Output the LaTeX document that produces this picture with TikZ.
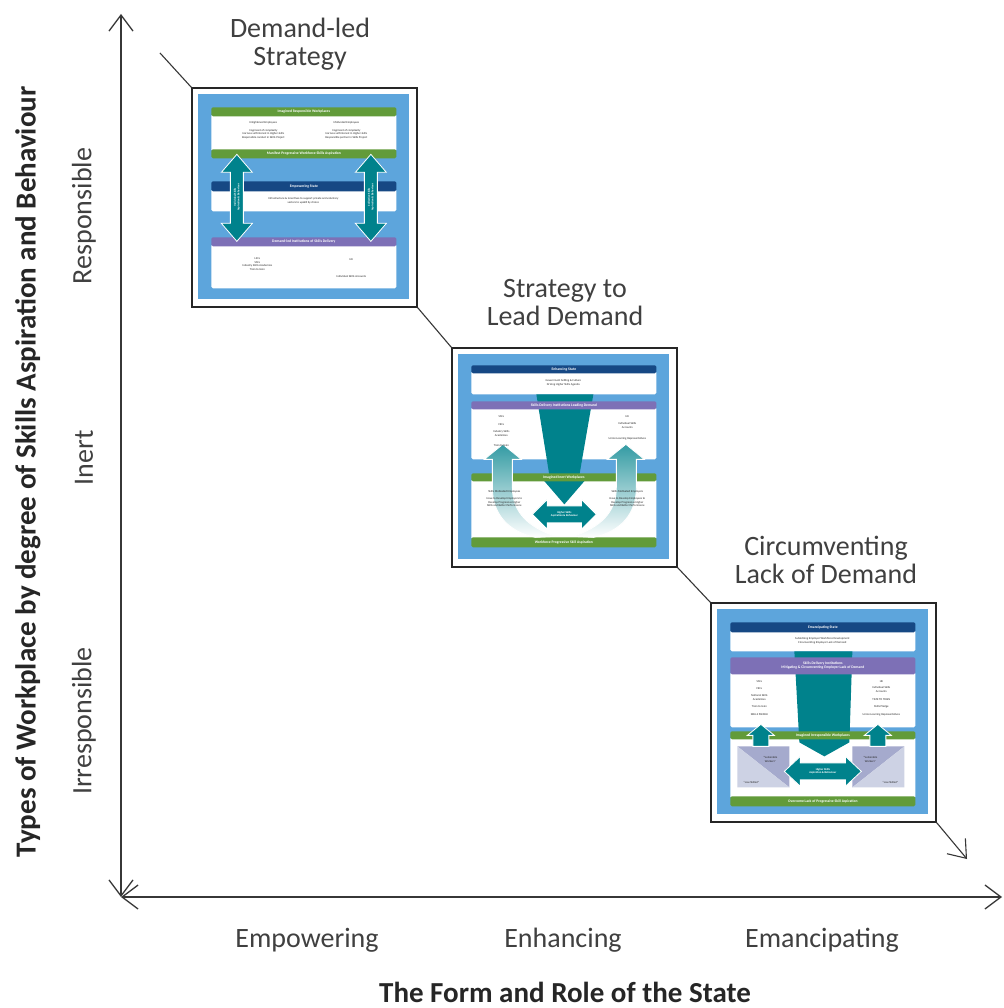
\documentclass[tikz,border=0pt]{standalone}
\usepackage{fontspec}
\setmainfont{Carlito}
\usetikzlibrary{arrows.meta}

\definecolor{panelblue}{RGB}{93,165,220}
\definecolor{barGreen}{RGB}{98,155,58}
\definecolor{barNavy}{RGB}{22,72,132}
\definecolor{barPurple}{RGB}{125,112,182}
\definecolor{tealA}{RGB}{0,130,140}
\definecolor{lavDark}{RGB}{165,170,205}
\definecolor{lavLight}{RGB}{205,210,228}
\definecolor{ink}{RGB}{64,64,64}
\definecolor{inkdark}{RGB}{38,38,38}
\definecolor{axisline}{RGB}{55,55,55}

\tikzset{
  barb/.tip={Straight Barb[length=16pt,width=24pt]},
  axisarrow/.style={draw=axisline, line width=1.3pt, barb-barb},
  diagline/.style={draw=axisline, line width=1.1pt},
  thumbframe/.style={draw=black!85, line width=1.3pt, fill=white,
    minimum width=225pt, minimum height=219pt, inner sep=0pt},
  stagetitle/.style={align=center, text=ink, font=\fontsize{28}{28}\selectfont, inner sep=0pt},
  ticklabel/.style={text=ink, font=\fontsize{28}{31}\selectfont, inner sep=0pt},
  axistitle/.style={text=inkdark, font=\bfseries\fontsize{29}{31}\selectfont, inner sep=0pt},
  bartext/.style={text=white, font=\bfseries\fontsize{3.7}{4.3}\selectfont, inner sep=0pt, align=center},
  tinytext/.style={text=black!85, font=\fontsize{2.9}{3.7}\selectfont, inner sep=0pt, align=center},
  arrowtext/.style={text=white, font=\bfseries\fontsize{2.8}{3.3}\selectfont, inner sep=0pt, align=center},
  tealshape/.style={fill=tealA, draw=white, line width=0.8pt, line join=miter},
}

% coloured heading bar across a thumbnail, with its caption
\newcommand\colbar[5]{%
  \fill[#2, rounded corners=1.5pt] (20,#3) rectangle (205,#4);
  \node[bartext] (#1) at (112.5,{(#3+#4)/2}) {#5};}
% vertical double arrow: cx, ytop, ybottom, head half width, shaft half width, head length
\newcommand\vdarrow[6]{%
  \path[tealshape] (#1,#2) -- ({#1+#4},{#2+#6}) -- ({#1+#5},{#2+#6}) -- ({#1+#5},{#3-#6})
    -- ({#1+#4},{#3-#6}) -- (#1,#3) -- ({#1-#4},{#3-#6}) -- ({#1-#5},{#3-#6})
    -- ({#1-#5},{#2+#6}) -- ({#1-#4},{#2+#6}) -- cycle;}
% horizontal double arrow: cy, xleft, xright, head half height, shaft half height, head length
\newcommand\hdarrow[6]{%
  \path[tealshape] (#2,#1) -- ({#2+#6},{#1-#4}) -- ({#2+#6},{#1-#5}) -- ({#3-#6},{#1-#5})
    -- ({#3-#6},{#1-#4}) -- (#3,#1) -- ({#3-#6},{#1+#4}) -- ({#3-#6},{#1+#5})
    -- ({#2+#6},{#1+#5}) -- ({#2+#6},{#1+#4}) -- cycle;}
% single upward arrow: cx, ytop, ybottom, head half width, shaft half width, head length
\newcommand\uparr[6]{%
  \path[tealshape] (#1,#2) -- ({#1+#4},{#2+#6}) -- ({#1+#5},{#2+#6}) -- ({#1+#5},#3)
    -- ({#1-#5},#3) -- ({#1-#5},{#2+#6}) -- ({#1-#4},{#2+#6}) -- cycle;}

\begin{document}
\begin{tikzpicture}[x=1pt, y=-1pt]
\useasboundingbox (0,0) rectangle (1003,1008);
\fill[white] (0,0) rectangle (1003,1008);

% ---------------- axes ----------------
\coordinate (O) at (121,897);
\coordinate (ytop) at (121,14);
\coordinate (xend) at (1002,897);
\draw[axisarrow] (O) -- (ytop);
\draw[axisarrow] (O) -- (xend);

\node[ticklabel] (xa) at (307,940) {Empowering};
\node[ticklabel] (xb) at (563,940) {Enhancing};
\node[ticklabel] (xc) at (822,940) {Emancipating};
\node[axistitle] (xt) at (565,992) {The Form and Role of the State};

\node[ticklabel, rotate=90] (ya) at (84,216) {Responsible};
\node[ticklabel, rotate=90] (yb) at (84,458) {Inert};
\node[ticklabel, rotate=90] (yc) at (84,721) {Irresponsible};
\node[axistitle, rotate=90] (yt) at (28,472) {Types of Workplace by degree of Skills Aspiration and Behaviour};

% ---------------- stage titles ----------------
\node[stagetitle] (t1) at (300,44) {Demand-led\\Strategy};
\node[stagetitle] (t2) at (565,303) {Strategy to\\Lead Demand};
\node[stagetitle] (t3) at (826,560) {Circumventing\\Lack of Demand};

% ---------------- thumbnail frames ----------------
\node[thumbframe] (s1) at (304.5,197.5) {};
\node[thumbframe] (s2) at (564.5,457.5) {};
\node[thumbframe] (s3) at (823.5,712.5) {};

% diagonal path through the three stages
\coordinate (d0) at (160,53);
\coordinate (d4) at (967,859);
\draw[diagline] (d0) -- (s1.north west);
\draw[diagline] (s1.south east) -- (s2.north west);
\draw[diagline] (s2.south east) -- (s3.north west);
\draw[diagline, -barb] (s3.south east) -- (d4);

% ---------------- stage 1: empowering state ----------------
\begin{scope}[shift={(s1.north west)}]
  \fill[panelblue] (7,7) rectangle (218,212);
  \fill[white, rounded corners=1.5pt] (20,27) rectangle (205,64);
  \fill[white, rounded corners=1.5pt] (20,102) rectangle (205,124);
  \fill[white, rounded corners=1.5pt] (20,157) rectangle (205,201);
  \colbar{s1b1}{barGreen}{20}{29}{Imagined Responsible Workplaces}
  \colbar{s1b2}{barGreen}{62}{71}{Manifest Progressive Workforce Skills Aspiration}
  \colbar{s1b3}{barNavy}{94}{104}{Empowering State}
  \colbar{s1b4}{barPurple}{150}{159}{Demand-led Institutions of Skills Delivery}

  \node[tinytext] (s1t1) at (72,35.5) {Enlightened Employees};
  \node[tinytext, anchor=north] (s1t2) at (72,41.5) {Cognisant of complexity\\Harness self-interest in Higher skills\\Responsible conduct in Skills Project};
  \node[tinytext] (s1t3) at (155,35.5) {Motivated Employees};
  \node[tinytext, anchor=north] (s1t4) at (155,41.5) {Cognisant of complexity\\Harness self-interest in Higher skills\\Responsible partner in Skills Project};
  \node[tinytext, anchor=north] (s1t5) at (112,110) {Infrastructure \& incentives to support private and voluntary\\sectors to upskill by choice};
  \node[tinytext, anchor=north] (s1t6) at (66,170) {LSCs\\SSCs\\Industry Skills Academies\\Train to Gain};
  \node[tinytext] (s1t7) at (160,172) {HE};
  \node[tinytext] (s1t8) at (160,189) {Individual Skills Accounts};

  \vdarrow{45.5}{67}{154}{15.5}{6.5}{18}
  \vdarrow{179.5}{67}{154}{15.5}{6.5}{18}
  \node[arrowtext, rotate=90] (s1a1) at (45.5,110) {Individual Skills\\Aspiration \& Behaviour};
  \node[arrowtext, rotate=90] (s1a2) at (179.5,110) {Collective Skills\\Aspiration \& Behaviour};
\end{scope}

% ---------------- stage 2: enhancing state ----------------
\begin{scope}[shift={(s2.north west)}]
  \fill[panelblue] (7,7) rectangle (218,212);
  \fill[white, rounded corners=1.5pt] (20,24) rectangle (205,47);
  \fill[white, rounded corners=1.5pt] (20,60) rectangle (205,112);
  \fill[white, rounded corners=1.5pt] (20,132) rectangle (205,192);
  % funnel arrow from the state down to the workplace
  \fill[tealA] (85,47) -- (142,47) -- (128,128) -- (138,128) -- (113,157) -- (88,128) -- (98,128) -- cycle;
  \colbar{s2b1}{barNavy}{18}{26}{Enhancing State}
  \colbar{s2b2}{barPurple}{54}{62}{Skills Delivery Institutions Leading Demand}
  \colbar{s2b3}{barGreen}{126}{134}{Imagined Inert Workplaces}
  \colbar{s2b4}{barGreen}{190}{200}{Workforce Progressive Skill Aspiration}

  % shaded rising arrows
  \shade[top color=tealA!80, bottom color=white, draw=white, line width=0.8pt]
    (33,112) -- (51.5,97) -- (70,112) -- (61,112) -- (61,140)
    .. controls (61,166) and (78,180) .. (104,189) -- (84,190)
    .. controls (56,184) and (41,166) .. (41,140) -- (41,112) -- cycle;
  \shade[top color=tealA!80, bottom color=white, draw=white, line width=0.8pt]
    (193,112) -- (174.5,97) -- (156,112) -- (165,112) -- (165,140)
    .. controls (165,166) and (148,180) .. (122,189) -- (142,190)
    .. controls (170,184) and (185,166) .. (185,140) -- (185,112) -- cycle;

  \node[tinytext, anchor=north] (s2t1) at (112,32) {Government Setting \& Culture\\Driving Higher Skills Agenda};
  \node[tinytext] (s2t2) at (50,69) {SSCs};
  \node[tinytext] (s2t3) at (50,77) {FECs};
  \node[tinytext, anchor=north] (s2t4) at (50,83) {Industry Skills\\Academies};
  \node[tinytext] (s2t5) at (50,98) {Train to Gain};
  \node[tinytext] (s2t6) at (176,69) {HE};
  \node[tinytext, anchor=north] (s2t7) at (176,75) {Individual Skills\\Accounts};
  \node[tinytext] (s2t8) at (176,91) {Union Learning Representatives};
  \node[tinytext] (s2t9) at (53,144) {Skills Motivated Employees};
  \node[tinytext, anchor=north] (s2t10) at (53,150) {Have to Develop Employers to\\Develop Progressive Higher\\Skills and Better Performance};
  \node[tinytext] (s2t11) at (176,144) {Skills Motivated Employers};
  \node[tinytext, anchor=north] (s2t12) at (176,150) {Have to Develop Employees to\\Develop Progressive Higher\\Skills and Better Performance};

  \hdarrow{167}{81}{145}{15}{8.5}{15}
  \node[arrowtext] (s2a1) at (113,167) {Higher Skills\\Aspiration \& Behaviour};
\end{scope}

% ---------------- stage 3: emancipating state ----------------
\begin{scope}[shift={(s3.north west)}]
  \fill[panelblue] (7,7) rectangle (218,212);
  \fill[white, rounded corners=1.5pt] (20,28) rectangle (205,49);
  \fill[white, rounded corners=1.5pt] (20,70) rectangle (205,125);
  \fill[white, rounded corners=1.5pt] (20,135) rectangle (205,196);
  % funnel arrow from the state down to the workplace
  \fill[tealA] (84,49) -- (142,49) -- (139,140) -- (114,154) -- (89,140) -- cycle;
  \colbar{s3b1}{barNavy}{20}{30}{Emancipating State}
  \colbar{s3b2}{barPurple}{55}{72}{Skills Delivery Institutions\\Mitigating \& Circumventing Employer Lack of Demand}
  \colbar{s3b3}{barGreen}{129}{137}{Imagined Irresponsible Workplaces}
  \colbar{s3b4}{barGreen}{194}{204}{Overcome Lack of Progressive Skill Aspiration}

  % workforce groups below the workplace bar
  \fill[lavDark] (27,144) -- (79,144) -- (79,185) -- cycle;
  \fill[lavLight] (27,144) -- (27,185) -- (79,185) -- cycle;
  \fill[lavDark] (194,144) -- (142,144) -- (142,185) -- cycle;
  \fill[lavLight] (194,144) -- (194,185) -- (142,185) -- cycle;
  \node[tinytext] (s3g1) at (60,157) {``Vulnerable\\Workers''};
  \node[tinytext] (s3g2) at (41,180) {``Low Skilled''};
  \node[tinytext] (s3g3) at (160,157) {``Vulnerable\\Workers''};
  \node[tinytext] (s3g4) at (180,180) {``Low Skilled''};

  \uparr{50.5}{122}{144}{13.5}{8}{11}
  \uparr{167.5}{122}{144}{13.5}{8}{11}

  \node[tinytext, anchor=north] (s3t1) at (112,35) {Subsidising Employer Workforce Development\\Circumventing Employer Lack of Demand};
  \node[tinytext] (s3t2) at (49,79) {SSCs};
  \node[tinytext] (s3t3) at (49,86) {FECs};
  \node[tinytext, anchor=north] (s3t4) at (49,92) {National Skills\\Academies};
  \node[tinytext] (s3t5) at (49,104) {Train to Gain};
  \node[tinytext] (s3t6) at (49,112) {SKILLS PLEDGE};
  \node[tinytext] (s3t7) at (171,79) {HE};
  \node[tinytext, anchor=north] (s3t8) at (171,84) {Individual Skills\\Accounts};
  \node[tinytext] (s3t9) at (171,97) {TIME TO TRAIN};
  \node[tinytext] (s3t10) at (171,104) {Skills Pledge};
  \node[tinytext] (s3t11) at (171,112) {Union Learning Representatives};

  \hdarrow{169}{74}{151}{15}{8.5}{16}
  \node[arrowtext] (s3a1) at (112.5,169) {Higher Skills\\Aspiration \& Behaviour};
\end{scope}
\end{tikzpicture}
\end{document}
